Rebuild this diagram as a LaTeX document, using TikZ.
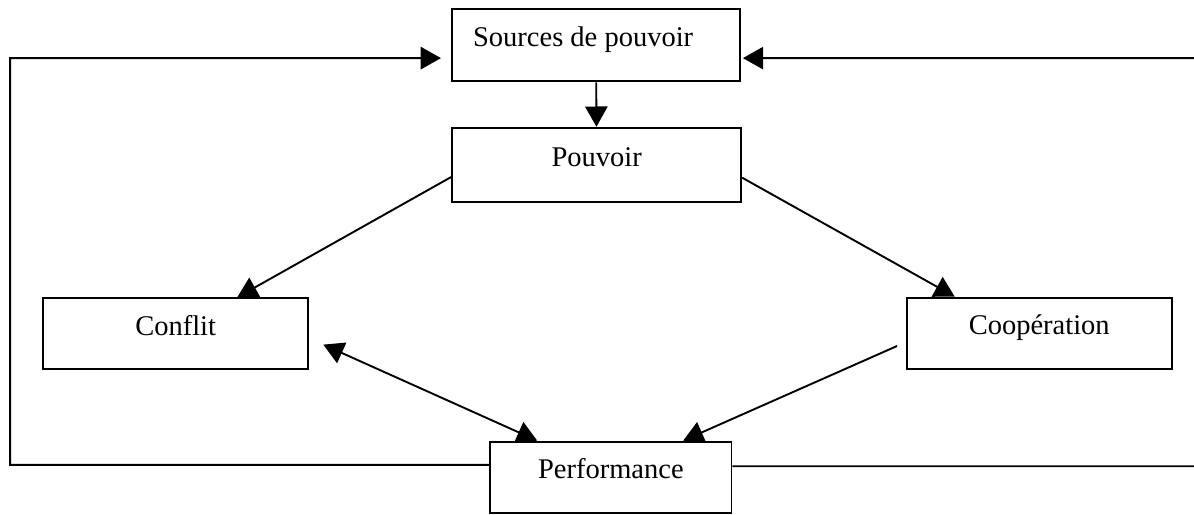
\documentclass[tikz,border=0pt]{standalone}
\usepackage{fontspec}
\setmainfont{Liberation Serif}
\usepackage{tikz}
\usetikzlibrary{positioning,arrows.meta,calc}

\begin{document}
\begin{tikzpicture}[
  >={Triangle[length=3mm,width=3.3mm]}, line width=.8pt,
  bx/.style={draw,inner sep=0pt,text height=.55cm,text depth=.5cm,align=center},
  every node/.style={font=\fontsize{12pt}{14pt}\selectfont}
]
  \useasboundingbox (0,0) rectangle (17.67,-7.61);
  \node[bx,minimum width=4.26cm,minimum height=1.07cm] (src) at (8.82,-.67) {Sources de pouvoir\hspace*{.38cm}};
  \node[bx,minimum width=4.28cm,minimum height=1.10cm] (pv) at (8.83,-2.44) {Pouvoir};
  \node[bx,minimum width=3.92cm,minimum height=1.05cm] (cf) at (2.60,-4.94) {Conflit};
  \node[bx,minimum width=3.92cm,minimum height=1.05cm] (cp) at (15.38,-4.93) {Coopération};
  \node[bx,minimum width=3.57cm,minimum height=1.05cm] (pf) at (9.04,-7.06) {Performance};
  \coordinate (cfend) at ([shift={(.21cm,-.16cm)}]cf.east);
  \coordinate (lc) at (.15,-.86);
  \coordinate (rc) at (17.72,-.86);
  \draw[->] (src) -- (pv);
  \draw[->] ([yshift=-.18cm]pv.west) -- ([xshift=.91cm]cf.north);
  \draw[->] ([yshift=-.19cm]pv.east) -- ([xshift=-1.25cm]cp.north);
  \draw[<->] (cfend) -- ([xshift=-1.09cm]pf.north);
  \draw[->] ([shift={(-.13cm,-.19cm)}]cp.west) -- ([xshift=1.07cm]pf.north);
  \draw[->] ([yshift=.18cm]pf.west) -| (lc) -- ([shift={(-.15cm,-.19cm)}]src.west);
  \draw[->] ([yshift=.16cm]pf.east) -| (rc) -- ([shift={(.03cm,-.19cm)}]src.east);
\end{tikzpicture}
\end{document}
